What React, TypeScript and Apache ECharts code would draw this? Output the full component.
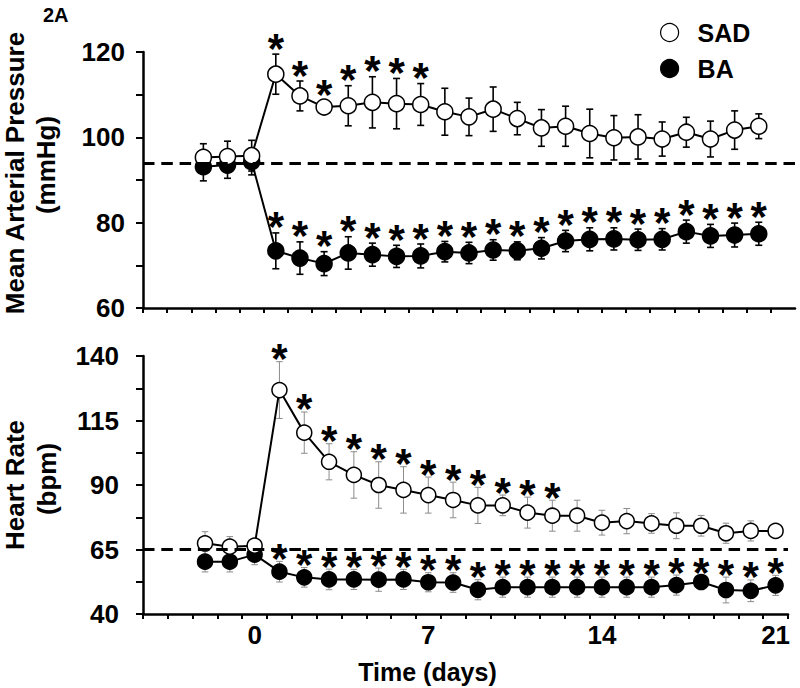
import React, { useEffect, useRef } from 'react';
import * as echarts from 'echarts';

const FONT = '"Liberation Sans", Arial, Helvetica, sans-serif';

// Days of measurement
const DAYS = [-2, -1, 0, 1, 2, 3, 4, 5, 6, 7, 8, 9, 10, 11, 12, 13, 14, 15, 16, 17, 18, 19, 20, 21];

// Mean arterial pressure (mmHg)
const MAP_SAD = [95.3, 95.5, 95.7, 114.8, 109.7, 107.1, 107.4, 108.2, 107.9, 107.7, 106.0, 104.8, 106.6, 104.4, 102.2, 102.6, 100.9, 99.9, 100.1, 99.6, 101.2, 99.6, 101.7, 102.6];
const MAP_SAD_SEM = [3.2, 3.6, 3.6, 4.7, 3.5, 1.5, 4.7, 6.0, 5.9, 4.9, 5.5, 4.4, 5.2, 3.8, 4.3, 4.7, 5.7, 5.2, 5.2, 4.0, 3.5, 4.2, 4.5, 2.9];
const MAP_BA = [93.1, 93.5, 94.3, 73.4, 71.7, 70.4, 72.9, 72.5, 72.1, 72.2, 73.2, 72.9, 73.6, 73.4, 74.0, 75.7, 76.1, 76.2, 76.0, 76.1, 77.9, 76.9, 77.1, 77.4];
const MAP_BA_SEM = [3.3, 3.1, 3.1, 4.2, 3.8, 2.8, 3.8, 2.7, 2.6, 2.8, 2.4, 2.5, 2.4, 2.1, 2.5, 2.5, 2.7, 2.6, 2.5, 2.5, 2.7, 2.7, 2.8, 2.7];
const MAP_SAD_SIG_DAYS = [1, 2, 3, 4, 5, 6, 7];
const MAP_BA_SIG_DAYS = [1, 2, 3, 4, 5, 6, 7, 8, 9, 10, 11, 12, 13, 14, 15, 16, 17, 18, 19, 20, 21];
const MAP_BASELINE = 94;

// Heart rate (bpm)
const HR_SAD = [67.4, 66.1, 66.5, 126.8, 110.3, 99.0, 93.9, 90.0, 88.1, 86.1, 84.2, 82.1, 82.1, 79.3, 78.1, 78.1, 75.4, 76.0, 75.1, 74.2, 74.2, 71.3, 72.2, 72.2];
const HR_SAD_SEM = [4.5, 3.9, 2.0, 11.0, 8.0, 7.0, 9.0, 9.0, 9.0, 7.0, 6.9, 7.0, 4.0, 6.0, 6.0, 6.0, 4.8, 4.9, 3.8, 5.0, 4.0, 3.9, 3.9, 1.5];
const HR_BA = [60.3, 60.3, 63.0, 56.4, 54.2, 53.4, 53.4, 53.3, 53.4, 52.3, 52.2, 49.4, 50.4, 50.4, 50.4, 50.4, 50.4, 50.4, 50.4, 51.2, 52.4, 49.3, 49.0, 51.1];
const HR_BA_SEM = [4.0, 4.0, 3.9, 4.0, 3.8, 4.0, 3.9, 4.5, 3.9, 3.7, 3.8, 3.9, 3.9, 3.9, 3.9, 3.9, 3.9, 3.9, 3.9, 3.9, 2.5, 5.0, 4.2, 3.9];
const HR_SAD_SIG_DAYS = [1, 2, 3, 4, 5, 6, 7, 8, 9, 10, 11, 12];
const HR_BA_SIG_DAYS = [1, 2, 3, 4, 5, 6, 7, 8, 9, 10, 11, 12, 13, 14, 15, 16, 17, 18, 19, 20, 21];
const HR_BASELINE = 65;

// Axis ticks and labels
const X_TICKS = [-4.5, -3.5, -2.5, -1.5, -0.5, 0.5, 1.5, 2.5, 3.5, 4.5, 5.5, 6.5, 7.5, 8.5, 9.5, 10.5, 11.5, 12.5, 13.5, 14.5, 15.5, 16.5, 17.5, 18.5, 19.5, 20.5, 21.5];
const X_LABELS = [0, 7, 14, 21];
const MAP_TICKS = [60, 70, 80, 90, 100, 110, 120];
const MAP_LABELS = [60, 80, 100, 120];
const HR_TICKS = [40, 52.5, 65, 77.5, 90, 102.5, 115, 127.5, 140];
const HR_LABELS = [40, 65, 90, 115, 140];

const AXIS_LINE = { color: '#000', width: 2.5 };
const TICK_LINE = { color: '#000', width: 2 };

function points(vals: number[]) {
  return DAYS.map((d, i) => [d, vals[i]]);
}
function bars(vals: number[], sem: number[]) {
  return DAYS.map((d, i) => [d, vals[i] - sem[i], vals[i] + sem[i]]);
}
function starPoints(days: number[], vals: number[], sem: number[]) {
  return days.map((d) => {
    const i = DAYS.indexOf(d);
    return [d, vals[i] + sem[i]];
  });
}

function errorBarSeries(name: string, idx: number, data: number[][], color: string, width: number, cap: number) {
  return {
    type: 'custom',
    name,
    xAxisIndex: idx,
    yAxisIndex: idx,
    silent: true,
    z: 2,
    encode: { x: 0, y: [1, 2] },
    data,
    renderItem: (_params: any, api: any) => {
      const x = api.value(0);
      const lo = api.coord([x, api.value(1)]);
      const hi = api.coord([x, api.value(2)]);
      const style = { stroke: color, lineWidth: width, fill: 'none' };
      return {
        type: 'group',
        children: [
          { type: 'line', shape: { x1: lo[0], y1: lo[1], x2: hi[0], y2: hi[1] }, style },
          { type: 'line', shape: { x1: hi[0] - cap, y1: hi[1], x2: hi[0] + cap, y2: hi[1] }, style },
          { type: 'line', shape: { x1: lo[0] - cap, y1: lo[1], x2: lo[0] + cap, y2: lo[1] }, style },
        ],
      };
    },
  };
}

function starSeries(name: string, idx: number, data: number[][], gap: number) {
  return {
    type: 'custom',
    name,
    xAxisIndex: idx,
    yAxisIndex: idx,
    silent: true,
    z: 6,
    encode: { x: 0, y: 1 },
    data,
    renderItem: (_params: any, api: any) => {
      const p = api.coord([api.value(0), api.value(1)]);
      return {
        type: 'text',
        x: p[0],
        y: p[1] - gap,
        style: {
          text: '*',
          fill: '#000',
          font: `bold 42px ${FONT}`,
          textAlign: 'center',
          textVerticalAlign: 'middle',
          align: 'center',
          verticalAlign: 'middle',
        },
      };
    },
  };
}

function lineSeries(name: string, idx: number, vals: number[], fill: string, size: number, z: number, baseline?: number) {
  const s: any = {
    type: 'line',
    name,
    xAxisIndex: idx,
    yAxisIndex: idx,
    data: points(vals),
    symbol: 'circle',
    symbolSize: size,
    showSymbol: true,
    silent: true,
    z,
    lineStyle: { color: '#000', width: 2 },
    itemStyle: { color: fill, borderColor: '#000', borderWidth: 1.5 },
    emphasis: { disabled: true },
  };
  if (baseline !== undefined) {
    s.markLine = {
      silent: true,
      symbol: ['none', 'none'],
      label: { show: false },
      lineStyle: { color: '#000', width: 2.8, type: [11.5, 6.8] },
      data: [{ yAxis: baseline }],
    };
  }
  return s;
}

const labelStyle = { color: '#000', fontSize: 26, fontWeight: 'bold', fontFamily: FONT };

function textEl(text: string, x: number, y: number, size: number, rotate: boolean, align = 'center') {
  return {
    type: 'text',
    x,
    y,
    rotation: rotate ? Math.PI / 2 : 0,
    silent: true,
    style: {
      text,
      fill: '#000',
      font: `bold ${size}px ${FONT}`,
      textAlign: align,
      textVerticalAlign: 'middle',
      align,
      verticalAlign: 'middle',
    },
  };
}

const option: any = {
  animation: false,
  backgroundColor: '#fff',
  grid: [
    { left: 143, top: 52, width: 652, height: 256 },
    { left: 143, top: 356, width: 645, height: 258 },
  ],
  legend: {
    orient: 'vertical',
    left: 655,
    top: 15,
    itemWidth: 18,
    itemHeight: 18,
    itemGap: 11,
    selectedMode: false,
    textStyle: { ...labelStyle, fontSize: 25, padding: [0, 0, 0, 14] },
    data: [
      { name: 'SAD', icon: 'circle', itemStyle: { color: '#fff', borderColor: '#000', borderWidth: 1.2 } },
      { name: 'BA', icon: 'circle', itemStyle: { color: '#000', borderColor: '#000', borderWidth: 1.2 } },
    ],
  },
  xAxis: [
    {
      gridIndex: 0,
      type: 'value',
      min: -4.5,
      max: 22.5,
      axisLine: { show: true, onZero: false, lineStyle: AXIS_LINE },
      axisTick: { show: true, customValues: X_TICKS, length: 5, lineStyle: TICK_LINE },
      axisLabel: { show: false },
      splitLine: { show: false },
    },
    {
      gridIndex: 1,
      type: 'value',
      min: -4.5,
      max: 21.5,
      axisLine: { show: true, onZero: false, lineStyle: AXIS_LINE },
      axisTick: { show: true, customValues: X_TICKS, length: 5, lineStyle: TICK_LINE },
      axisLabel: { ...labelStyle, customValues: X_LABELS, margin: 8 },
      splitLine: { show: false },
    },
  ],
  yAxis: [
    {
      gridIndex: 0,
      type: 'value',
      min: 60,
      max: 120,
      axisLine: { show: true, onZero: false, lineStyle: AXIS_LINE },
      axisTick: { show: true, customValues: MAP_TICKS, length: 7, lineStyle: TICK_LINE },
      axisLabel: { ...labelStyle, customValues: MAP_LABELS, margin: 18 },
      splitLine: { show: false },
    },
    {
      gridIndex: 1,
      type: 'value',
      min: 40,
      max: 140,
      axisLine: { show: true, onZero: false, lineStyle: AXIS_LINE },
      axisTick: { show: true, customValues: HR_TICKS, length: 7, lineStyle: TICK_LINE },
      axisLabel: { ...labelStyle, customValues: HR_LABELS, margin: 24 },
      splitLine: { show: false },
    },
  ],
  graphic: [
    textEl('2A', 43, 15, 20, false, 'left'),
    textEl('Mean Arterial Pressure', 15, 173, 26, true),
    textEl('(mmHg)', 46, 165, 26, true),
    textEl('Heart Rate', 15, 485, 26, true),
    textEl('(bpm)', 46.5, 479, 26, true),
    textEl('Time (days)', 427.5, 672, 25, false),
  ],
  series: [
    errorBarSeries('BA MAP SEM', 0, bars(MAP_BA, MAP_BA_SEM), '#000', 1.6, 3.5),
    errorBarSeries('SAD MAP SEM', 0, bars(MAP_SAD, MAP_SAD_SEM), '#000', 1.6, 3.5),
    lineSeries('BA', 0, MAP_BA, '#000', 16, 3, MAP_BASELINE),
    lineSeries('SAD', 0, MAP_SAD, '#fff', 16, 4),
    starSeries('MAP SAD sig', 0, starPoints(MAP_SAD_SIG_DAYS, MAP_SAD, MAP_SAD_SEM), 6),
    starSeries('MAP BA sig', 0, starPoints(MAP_BA_SIG_DAYS, MAP_BA, MAP_BA_SEM), 6),

    errorBarSeries('BA HR SEM', 1, bars(HR_BA, HR_BA_SEM), '#8c8c8c', 1, 3.3),
    errorBarSeries('SAD HR SEM', 1, bars(HR_SAD, HR_SAD_SEM), '#8c8c8c', 1, 3.3),
    lineSeries('BA', 1, HR_BA, '#000', 15, 3, HR_BASELINE),
    lineSeries('SAD', 1, HR_SAD, '#fff', 15, 4),
    starSeries('HR SAD sig', 1, starPoints(HR_SAD_SIG_DAYS, HR_SAD, HR_SAD_SEM), 3),
    starSeries('HR BA sig', 1, starPoints(HR_BA_SIG_DAYS, HR_BA, HR_BA_SEM), 3),
  ],
};

export default function App() {
  const ref = useRef<HTMLDivElement>(null);
  useEffect(() => {
    if (!ref.current) return;
    const chart = echarts.init(ref.current, null, { renderer: 'svg' });
    chart.setOption(option);
    return () => chart.dispose();
  }, []);
  return (
    <div
      ref={ref}
      style={{ position: 'absolute', left: 0, top: 0, width: 800, height: 688, background: '#fff' }}
    />
  );
}
